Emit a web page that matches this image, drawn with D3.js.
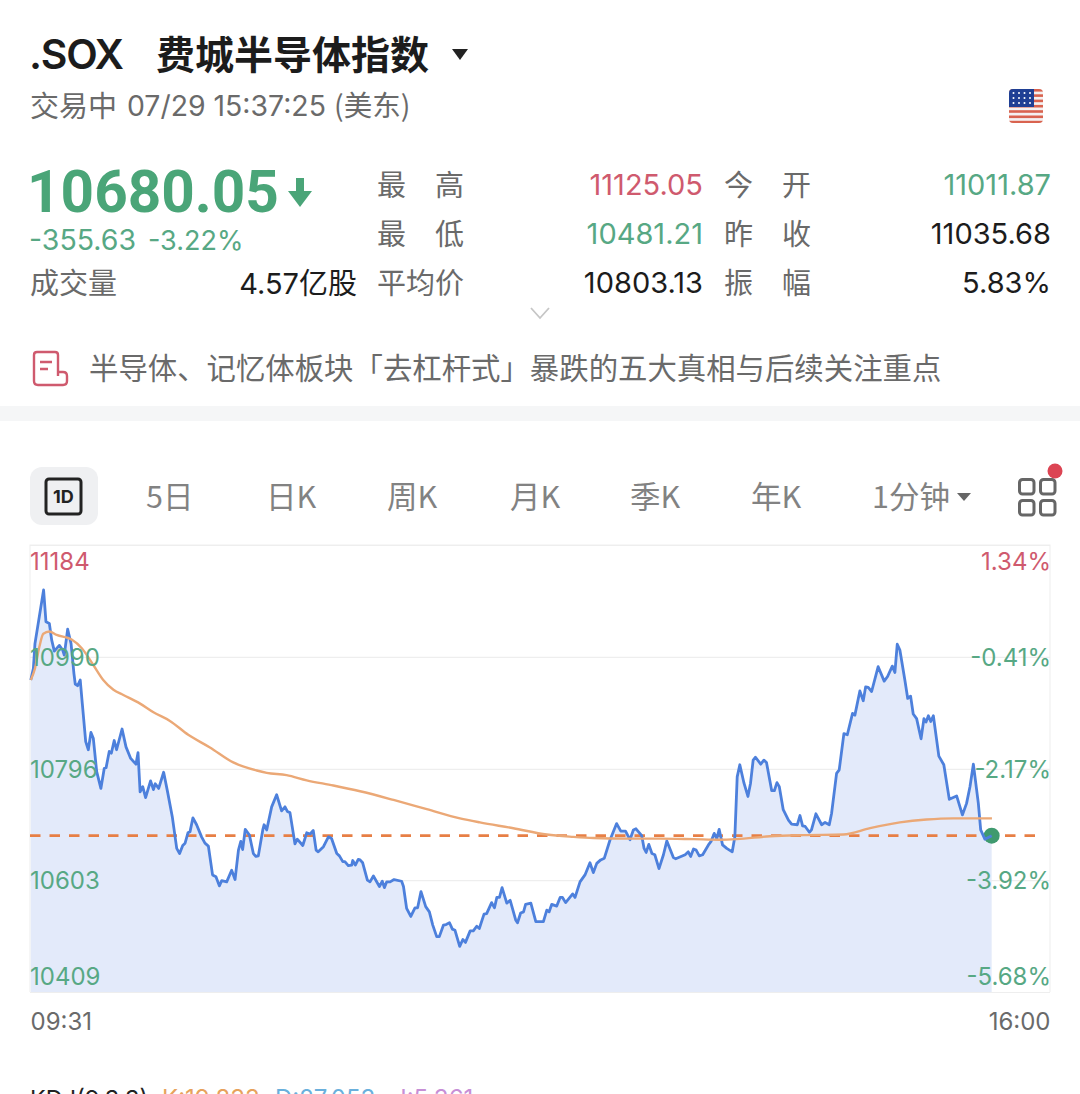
<!DOCTYPE html>
<html lang="zh-CN">
<head>
<meta charset="utf-8">
<title>.SOX</title>
<script src="https://cdn.jsdelivr.net/npm/d3@7"></script>
<style>
    html, body { margin: 0; padding: 0; background: #fff; overflow: hidden; }
    svg { display: block; }
    text { font-family: Inter, "Noto Sans CJK SC", sans-serif; }
    .cjk { font-family: "Noto Sans CJK SC", sans-serif; }
    .chart-axis .domain { display: none; }
    .chart-axis text { font-family: Inter, sans-serif; }
</style>
</head>
<body>
<div id="chart"></div>
<script>
// Data
let priceMinutes = [0.3,1.3,1.9,5.2,6.1,7.4,8.3,9.3,11.2,12.5,13.1,14.4,15.7,16.8,17.3,18.2,19.2,20,21.3,22.3,23.3,24.2,25.5,27.1,28.4,29.1,30.3,31.1,32.2,33.1,35.2,36.7,38.5,40.5,41.3,42.1,43.1,44.2,46.1,47.2,47.9,49.2,51.1,52.6,54.4,56.1,57.2,58.4,59.3,60.4,61.2,62.3,63.7,65.6,66.9,68.2,69.8,71.1,72.4,73.3,75.2,77.1,78.4,79.7,80.6,81.3,82.3,83.9,85.4,86.4,87.3,89,89.5,90.5,92.4,94.3,96.2,97.5,98.4,99.4,101.3,102.2,104.3,105.8,107.1,108.3,109.4,110.2,112.2,114.1,115.3,117.3,118.3,119.6,120.4,121.7,123,123.4,124.4,125.5,
    126.2,127.2,129,130,131.3,133.6,134.7,135.5,136.4,137.7,139.2,142.1,142.8,144,145.6,147.2,148.2,149.5,151.3,152.7,154,155.5,156.5,158.1,159.1,160.4,161.5,162.5,164.3,165.5,166.5,168.3,169.5,170.8,171.8,173.6,174.6,176.5,177.6,178.5,179.5,180.5,182.3,183.6,185.7,186.4,187.6,188.7,189.5,191.5,193.4,196.3,197.6,198.5,199.5,201.4,202.7,203.6,204.8,207.5,208.4,210.3,212.2,214.1,215.4,216.7,218.2,219.6,221.8,224.3,225.9,227.7,229.4,230.7,231.7,233.9,234.8,235.6,236.6,237.8,238.9,240.5,242.2,243.5,246,246.9,250.5,251.7,252.6,253.7,254.7,255.9,257.2,259.4,260.4,261.6,262.6,263.5,
    264.8,266.4,268.5,269.5,270.4,271.4,273,274.5,275.5,276.5,277.4,279.4,280.6,281.6,283.6,284.6,285.6,286.5,288,290,291.2,293.4,294.4,295.4,296.4,298,298.8,300.5,302.7,304,305.6,306.5,308.4,309.4,311.2,312.5,314.5,315.4,317.3,318.6,319.5,320.5,321.8,324.3,326.6,327.9,329.7,330.7,331.6,332.6,334.5,335.6,336.7,337.7,339,340.7,341.8,342.6,343.5,344.4,345.4,347.5,349.4,351.5,354.3,356.5,358.1,359.4,360.7,362.6,363.5,365.1,367.7];
let priceValues = [10950,10970,11013,11106,11051,11048,11019,11000,11010,11002,10993,11038,11013,10961,10943,10940,10950,10909,10843,10829,10859,10849,10791,10762,10797,10798,10826,10823,10845,10829,10865,10834,10814,10804,10824,10756,10765,10746,10775,10760,10770,10762,10790,10756,10713,10658,10649,10663,10667,10685,10687,10711,10699,10678,10667,10662,10612,10609,10593,10602,10600,10620,10604,10655,10670,10656,10691,10681,10649,10644,10645,10690,10699,10690,10730,10751,10723,10730,10722,10720,10666,10674,10663,10685,10683,10689,10655,10652,10661,10678,10675,10649,10645,10635,10635,10628,10629,10637,10629,10639,
    10638,10633,10603,10600,10610,10592,10601,10590,10600,10600,10604,10601,10592,10554,10540,10555,10555,10583,10557,10548,10525,10505,10505,10525,10526,10529,10518,10516,10488,10500,10495,10515,10515,10523,10519,10544,10545,10564,10555,10573,10573,10590,10563,10568,10534,10529,10546,10548,10561,10563,10531,10531,10551,10548,10561,10558,10573,10573,10564,10579,10573,10600,10612,10633,10616,10632,10638,10641,10673,10701,10688,10688,10673,10690,10692,10680,10658,10651,10665,10649,10647,10623,10647,10671,10642,10640,10647,10652,10644,10657,10655,10645,10647,10664,10670,10684,10675,10691,
    10664,10658,10652,10678,10782,10803,10771,10748,10771,10811,10816,10804,10811,10807,10758,10758,10772,10765,10725,10707,10700,10699,10715,10697,10696,10686,10690,10718,10699,10703,10699,10719,10788,10794,10857,10855,10892,10889,10931,10914,10938,10937,10930,10973,10948,10956,10974,10963,11012,11002,10950,10918,10922,10891,10883,10848,10883,10877,10888,10878,10888,10818,10803,10743,10749,10716,10736,10765,10804,10736,10690,10674,10680];
let avgMinutes = [0.3,1.9,3.6,5.1,7.4,10.2,15.9,19.8,24.2,28,31.9,35.7,42.1,47.2,53.5,60.5,68.8,77.7,86.7,90.5,98.1,105.8,116,126.2,139,151.7,164.4,172,184.8,197.6,207.8,215.4,228.2,240.9,253.7,263.8,270.2,282.9,295.7,311,321.2,332.6,342.8,353,367.8];
let avgValues = [10950,10970,11008,11030,11034,11028,11020,11005,10976,10950,10933,10924,10909,10894,10879,10855,10833,10807,10793,10789,10785,10776,10767,10757,10742,10726,10710,10703,10693,10682,10678,10676,10675,10675,10674,10673,10674,10679,10681,10682,10693,10703,10708,10710,10710];
let currentPrice = 10680.05;
let priceTicks = [11184,10990,10796,10603,10409];
let percentTicks = [1.34,-0.41,-2.17,-3.92,-5.68];
let timeTicks = [0,390];
let timeLabels = ['09:31','16:00'];
let tabLabels = ['5日','日K','周K','月K','季K','年K','1分钟'];
let statLabels = [['最','高'],['最','低'],['今','开'],['昨','收'],['振','幅']];
let statValues = ['11125.05','10481.21','11011.87','11035.68','5.83%'];

const RED = '#cf5a6e', GREEN = '#57a884', GRAY = '#6a6a6a', DARK = '#1c1c1c';

let svg = d3.select('#chart').append('svg').attr('width', 1080).attr('height', 1094);

function label(txt, x, y, size, fill, opts) {
    opts = opts || {};
    return svg.append('text')
        .attr('x', x).attr('y', y)
        .attr('font-size', size)
        .attr('fill', fill)
        .attr('font-weight', opts.weight || 400)
        .attr('text-anchor', opts.anchor || 'start')
        .attr('class', opts.cjk ? 'cjk' : null)
        .text(txt);
}

/* Cabecera */
function drawHeader() {
    label('.SOX', 29, 69, 41, DARK, {weight: 600}).attr('letter-spacing', -1.3);
    label('费城半导体指数', 156, 69, 39, DARK, {weight: 700, cjk: true});
    svg.append('path').attr('d', 'M452,49H468L460,60Z').attr('fill', '#222');

    label('交易中', 30, 117, 29, GRAY, {cjk: true});
    label('07/29 15:37:25', 127, 116, 28.4, GRAY);
    label('(美东)', 334, 116, 28.5, GRAY, {cjk: true});

    // bandera
    let flag = svg.append('g');
    let clip = svg.append('clipPath').attr('id', 'flagClip');
    clip.append('rect').attr('x', 1009).attr('y', 89).attr('width', 34).attr('height', 34).attr('rx', 4);
    flag.attr('clip-path', 'url(#flagClip)');
    flag.append('rect').attr('x', 1009).attr('y', 89).attr('width', 34).attr('height', 34).attr('fill', '#f4f1f1');
    d3.range(0, 7).forEach(function(i) {
        flag.append('rect').attr('x', 1009).attr('y', 89 + i * 5.3).attr('width', 34).attr('height', 2.6).attr('fill', '#d9634f');
    });
    flag.append('rect').attr('x', 1009).attr('y', 89).attr('width', 25).attr('height', 18).attr('fill', '#1f3f94');
    d3.range(0, 3).forEach(function(r) {
        d3.range(0, 4).forEach(function(c) {
            flag.append('circle').attr('cx', 1013.5 + c * 5.5).attr('cy', 93 + r * 5).attr('r', 1).attr('fill', '#fff');
        });
    });

    // precio
    label('10680.05', 27, 212, 58.5, '#4aa578', {weight: 700}).style('font-family', 'Roboto, sans-serif');
    svg.append('path').attr('d', 'M296,178H304V191H312L300,207L288,191H296Z').attr('fill', '#4aa578');
    label('-355.63', 29, 250, 28.5, GREEN);
    label('-3.22%', 148, 250, 27, GREEN);
    label('成交量', 30, 294, 29, GRAY, {cjk: true});
    label('4.57亿股', 357, 294, 29, DARK, {anchor: 'end'});
    let cols = [378, 378, 725, 725, 725];
    let rows = [196, 245, 196, 245, 294];
    let valueX = [703, 703, 1051, 1051, 1051];
    let valueColor = [RED, GREEN, GREEN, DARK, DARK];
    statLabels.forEach(function(s, i) {
        label(s[0], cols[i] - 1, rows[i], 29, GRAY, {cjk: true});
        label(s[1], cols[i] + 57, rows[i], 29, GRAY, {cjk: true});
        label(statValues[i], valueX[i], rows[i] - 1, 29, valueColor[i], {anchor: 'end'});
    });
    label('平均价', 377, 294, 29, GRAY, {cjk: true});
    label('10803.13', 703, 293, 29, DARK, {anchor: 'end'});
    svg.append('path').attr('d', 'M531,308L540,318L549,308').attr('fill', 'none').attr('stroke', '#c6c6c6').attr('stroke-width', 1.8);

    // noticia
    svg.append('path')
        .attr('d', 'M58,376V355Q58,352 55,352H37Q34,352 34,355V381Q34,385 38,385H63Q67,385 67,381V376Q67,372 63,372H58')
        .attr('fill', 'none').attr('stroke', RED).attr('stroke-width', 2.4);
    svg.append('path').attr('d', 'M40,362H52M40,369H48').attr('stroke', RED).attr('stroke-width', 2.4);
    label('半导体、记忆体板块「去杠杆式」暴跌的五大真相与后续关注重点', 89, 379, 29.4, GRAY, {cjk: true});
    svg.append('rect').attr('x', 0).attr('y', 406).attr('width', 1080).attr('height', 15).attr('fill', '#f5f6f7');
}

/* Pestañas */
function drawTabs() {
    svg.append('rect').attr('x', 30).attr('y', 467).attr('width', 68).attr('height', 58).attr('rx', 12).attr('fill', '#eff0f2');
    svg.append('rect').attr('x', 46).attr('y', 479).attr('width', 35).attr('height', 35).attr('rx', 3)
        .attr('fill', 'none').attr('stroke', '#222').attr('stroke-width', 3);
    label('1D', 63.5, 503, 18, '#222', {weight: 700, anchor: 'middle'});

    let tabX = [146, 266, 387, 510, 630, 751, 872];
    tabLabels.forEach(function(t, i) {
        label(t, tabX[i], 508, 30.5, '#828282', {cjk: true});
    });
    svg.append('path').attr('d', 'M957,493H971L964,501Z').attr('fill', '#666');
    [[1018, 478], [1039, 478], [1018, 499], [1039, 499]].forEach(function(p) {
        svg.append('rect').attr('x', p[0] + 1.5).attr('y', p[1] + 1.5).attr('width', 14.5).attr('height', 14.5).attr('rx', 3)
            .attr('fill', 'none').attr('stroke', '#666').attr('stroke-width', 3);
    });
    svg.append('circle').attr('cx', 1055).attr('cy', 471).attr('r', 7.5).attr('fill', '#dc4453');
}

/* Gráfico principal */
function drawChart() {
    let left = 30, right = 1050, top = 545, bottom = 992;

    let x = d3.scaleLinear().domain([0, 390]).range([left, right]);
    let y = d3.scaleLinear().domain([10409, 11184]).range([bottom, top]);
    let yPct = d3.scaleLinear().domain([-5.68, 1.34]).range([bottom, top]);

    let points = priceMinutes.map(function(m, i) { return [m, priceValues[i]]; });
    let avgPoints = avgMinutes.map(function(m, i) { return [m, avgValues[i]]; });

    // marco
    svg.append('path')
        .attr('d', d3.line()([[left, bottom], [left, top], [right, top], [right, bottom]]))
        .attr('fill', 'none').attr('stroke', '#f0f0f0').attr('stroke-width', 1.2);

    // rejilla
    let grid = svg.append('g').attr('class', 'chart-axis').attr('transform', 'translate(' + left + ',0)')
        .call(d3.axisRight(y).tickValues(priceTicks).tickSize(right - left).tickFormat(''));
    grid.selectAll('.tick line').attr('stroke', '#eeeeee').attr('stroke-width', 1.2);

    // area y lineas
    let area = d3.area().x(function(d) { return x(d[0]); }).y0(bottom).y1(function(d) { return y(d[1]); });
    svg.append('path').attr('d', area(points)).attr('fill', '#e3eafa');

    svg.append('line')
        .attr('x1', left).attr('x2', 1041)
        .attr('y1', y(currentPrice)).attr('y2', y(currentPrice))
        .attr('stroke', '#e77f45').attr('stroke-width', 2.6).attr('stroke-dasharray', '10.5 9');

    let lastPoint = points[points.length - 1];
    svg.append('circle').attr('cx', x(lastPoint[0])).attr('cy', y(lastPoint[1])).attr('r', 8).attr('fill', '#3f9a6f');

    let line = d3.line().x(function(d) { return x(d[0]); }).y(function(d) { return y(d[1]); });
    svg.append('path').attr('d', line(points))
        .attr('fill', 'none').attr('stroke', '#4d80dc').attr('stroke-width', 2.8).attr('stroke-linejoin', 'round');
    svg.append('path').attr('d', d3.line().curve(d3.curveMonotoneX).x(function(d) { return x(d[0]); }).y(function(d) { return y(d[1]); })(avgPoints))
        .attr('fill', 'none').attr('stroke', '#eba876').attr('stroke-width', 2.4);

    // eje izquierdo
    let yAxis = svg.append('g').attr('class', 'chart-axis').attr('transform', 'translate(' + left + ',0)')
        .call(d3.axisRight(y).tickValues(priceTicks).tickSize(0).tickPadding(0).tickFormat(d3.format('d')));
    styleTicks(yAxis, 'start');

    // eje derecho
    let pctAxis = svg.append('g').attr('class', 'chart-axis').attr('transform', 'translate(' + (right + 1) + ',0)')
        .call(d3.axisLeft(yPct).tickValues(percentTicks).tickSize(0).tickPadding(0).tickFormat(function(d) { return d3.format('.2f')(d).replace('−', '-') + '%'; }));
    styleTicks(pctAxis, 'end');

    // eje temporal
    let xAxis = svg.append('g').attr('class', 'chart-axis').attr('transform', 'translate(0,' + bottom + ')')
        .call(d3.axisBottom(x).tickValues(timeTicks).tickSize(0).tickPadding(0).tickFormat(function(d, i) { return timeLabels[i]; }));
    xAxis.selectAll('text')
        .attr('font-size', 24).attr('fill', '#6a6a6a').attr('y', 21)
        .attr('text-anchor', function(d, i) { return i ? 'end' : 'start'; });
}

function styleTicks(axis, anchor) {
    axis.selectAll('text')
        .attr('font-size', 24)
        .attr('text-anchor', anchor)
        .attr('fill', function(d, i) { return i == 0 ? RED : GREEN; })
        .attr('dy', function(d, i) {
            if (i == 0) { return '1.02em'; }
            if (i == percentTicks.length - 1) { return '-0.3em'; }
            return '0.36em';
        });
}

/* Pie recortado */
function drawFooter() {
    label('KDJ(9,3,3)', 30, 1107, 23.5, '#222');
    label('K:19.833', 162, 1107, 24, '#e7a25c');
    label('D:27.053', 275, 1107, 24, '#6ab0dc');
    label('J:5.361', 393, 1107, 24, '#c78fd6');
}

drawHeader();
drawTabs();
drawChart();
drawFooter();
</script>
</body>
</html>
